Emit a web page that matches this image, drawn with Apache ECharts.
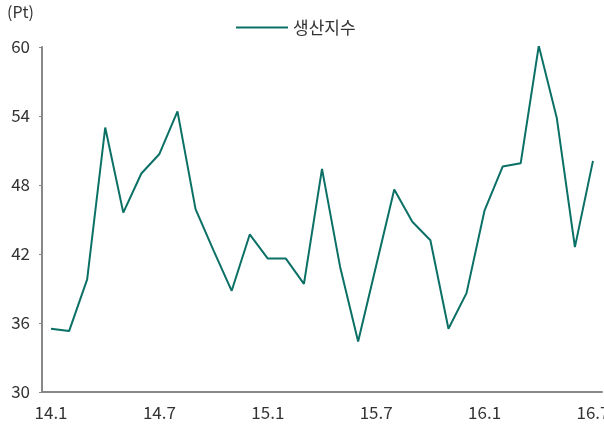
<!DOCTYPE html>
<html><head><meta charset="utf-8">
<script src="https://cdn.jsdelivr.net/npm/echarts@6/dist/echarts.min.js"></script>
<style>html,body{margin:0;padding:0;background:#fff}#c{width:604px;height:428px}</style>
</head><body><div id="c"></div>
<script>
const categories = ["14.1","14.2","14.3","14.4","14.5","14.6","14.7","14.8","14.9","14.10","14.11","14.12",
 "15.1","15.2","15.3","15.4","15.5","15.6","15.7","15.8","15.9","15.10","15.11","15.12",
 "16.1","16.2","16.3","16.4","16.5","16.6","16.7"];
const seriesName = "생산지수";
const values = [35.5,35.3,39.8,53.0,45.6,49.0,50.7,54.4,45.9,42.3,38.8,43.7,41.6,41.6,39.4,49.4,40.9,34.4,41.0,47.6,44.8,43.2,35.5,38.6,45.8,49.6,49.9,60.1,53.8,42.6,50.1];
const yTicks = {min:30, max:60, interval:6};
const unitLabel = "(Pt)";

const chart = echarts.init(document.getElementById('c'));
const font = "'Noto Sans CJK KR', 'Noto Sans', sans-serif";
chart.setOption({
  animation:false,
  textStyle:{fontFamily:font},
  graphic:[{type:'text', left:7, top:4, style:{text:unitLabel, font:"16px "+font, fill:'#333'}}],
  legend:{data:[seriesName], top:14, left:231, itemWidth:52, itemHeight:10, itemGap:4,
    textStyle:{fontSize:17, color:'#333', fontFamily:font},
    icon:'path://M0,4 L52,4 L52,6 L0,6 Z'},
  grid:{left:42, right:2, top:47, bottom:36, containLabel:false, outerBoundsMode:'none'},
  xAxis:{type:'category', data:categories, boundaryGap:true,
    axisLine:{lineStyle:{color:'#888', width:2}},
    axisTick:{interval:5, length:4, lineStyle:{color:'#888', width:1.5}},
    axisLabel:{interval:5, fontSize:17, color:'#333', margin:12, fontFamily:font},
    splitLine:{show:false}},
  yAxis:{type:'value', min:yTicks.min, max:yTicks.max, interval:yTicks.interval,
    axisLine:{show:true, lineStyle:{color:'#888', width:2}},
    axisTick:{show:true, length:3, lineStyle:{color:'#888'}},
    axisLabel:{fontSize:17, color:'#333', margin:12, fontFamily:font},
    splitLine:{show:false}},
  series:[{name:seriesName, type:'line', data:values, showSymbol:false, symbol:'none',
    lineStyle:{color:'#0b7065', width:2}, itemStyle:{color:'#0b7065'}}]
});
</script></body></html>
